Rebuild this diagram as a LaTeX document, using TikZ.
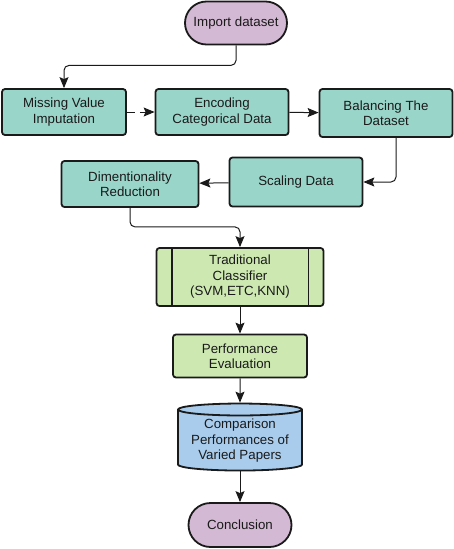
\documentclass[tikz,border=0pt]{standalone}
\usepackage{fontspec}
\setmainfont{Liberation Sans}
\usepackage{xcolor}
\usepackage{tikz}
\usetikzlibrary{positioning,calc,arrows.meta,shapes.geometric,shapes.misc}
\definecolor{fteal}{HTML}{9AD5CA}
\definecolor{fpurp}{HTML}{D4B9D4}
\definecolor{fgreen}{HTML}{CDE9B1}
\definecolor{fblue}{HTML}{A9CCEC}
\definecolor{fline}{HTML}{1A1A1A}
\definecolor{fbody}{HTML}{1A1A1A}

\begin{document}
\begin{tikzpicture}[x=1pt, y=1pt, >=Stealth,
  font=\fontsize{13.3}{15.5}\selectfont,
  box/.style={draw=fline, line width=1.8pt, fill=fteal, text=fbody,
              rounded corners=3pt, align=center, inner sep=2pt},
  term/.style={draw=fline, line width=1.8pt, fill=fpurp, text=fbody,
               rounded rectangle, align=center, inner sep=2pt},
  bar/.style={draw=fline, line width=1.8pt},
  db/.style={draw=fline, line width=1.8pt, fill=fblue, text=fbody,
             cylinder, shape border rotate=90, aspect=0.12, align=center,
             inner sep=1pt},
  arr/.style={-{Stealth[length=11pt, width=9pt, inset=2pt]}, line width=1pt,
              draw=fline, rounded corners=5pt}]
  \useasboundingbox (0,0) rectangle (454,-549);
  % --- top of the flow
  \node[term, minimum width=106pt, minimum height=43pt] (imp) at (236,-23) {Import dataset};
  \node[box, minimum width=124pt, minimum height=46pt] (mis) at (64,-112) {Missing Value\\Imputation};
  \node[box, minimum width=133pt, minimum height=46pt] (enc) at (222,-112) {Encoding\\Categorical Data};
  \node[box, minimum width=133pt, minimum height=48pt] (bal) at (386,-113) {Balancing The\\Dataset};
  % --- second row (right to left)
  \node[box, minimum width=133pt, minimum height=49pt] (sca) at (296,-182) {Scaling Data};
  \node[box, minimum width=137pt, minimum height=46pt] (dim) at (130,-184) {Dimentionality\\Reduction};
  % --- classifier and results
  \node[box, fill=fgreen, minimum width=167pt, minimum height=58pt] (cls) at (240,-277) {Traditional\\Classifier\\(SVM,ETC,KNN)};
  \draw[bar] ($(cls.north west)+(16,0)$) -- ($(cls.south west)+(16,0)$);
  \draw[bar] ($(cls.north east)+(-16,0)$) -- ($(cls.south east)+(-16,0)$);
  \node[box, fill=fgreen, minimum width=134pt, minimum height=43pt] (per) at (240,-356) {Performance\\Evaluation};
  \node[db, minimum width=124pt, minimum height=67pt] (cmp) at (240,-441) {Comparison\\Performances of\\Varied Papers};
  \node[term, minimum width=107pt, minimum height=44pt] (con) at (240,-525) {Conclusion};
  \draw[arr] (imp.south) -- ++(0,-20) -| (mis.north);
  \draw[arr, dash pattern=on 8pt off 5pt on 30pt] (mis) -- (enc);
  \draw[arr] (enc) -- (bal);
  \draw[arr] ([xshift=10pt]bal.south) |- (sca.east);
  \draw[arr] (sca) -- (dim);
  \draw[arr] (dim.south) -- ++(0,-19) -| (cls.north);
  \draw[arr] (cls) -- (per);
  \draw[arr] (per) -- (cmp);
  \draw[arr] (cmp) -- (con);
\end{tikzpicture}
\end{document}
